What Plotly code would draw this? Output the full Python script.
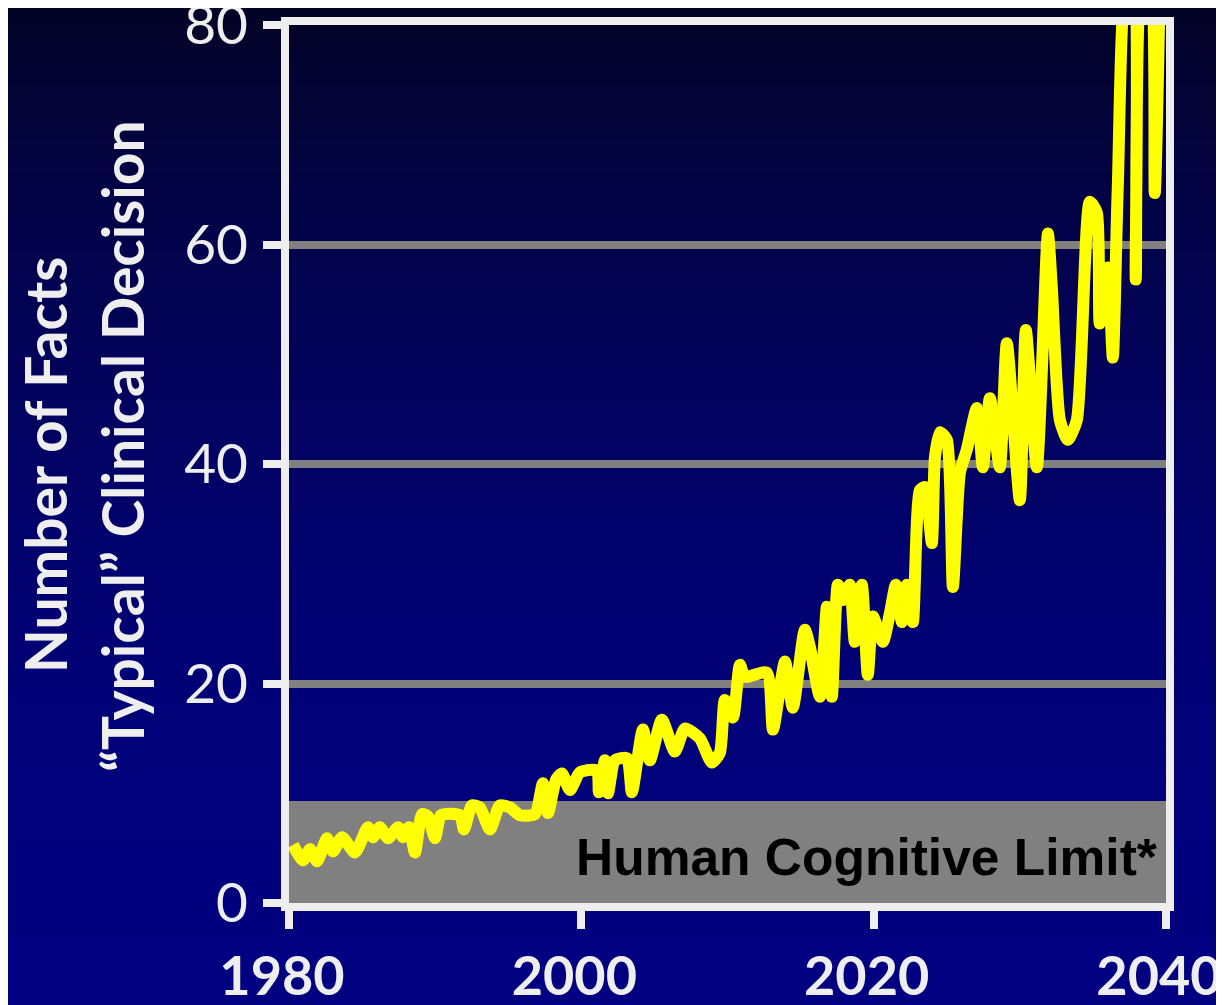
import plotly.graph_objects as go

# ---- data ----
years = [1980.27, 1980.96, 1981.44, 1981.92, 1982.60, 1983.01, 1983.63, 1984.51, 1985.40, 1985.75,
         1986.22, 1986.77, 1987.46, 1987.80, 1988.21, 1988.62, 1989.10, 1989.51, 1989.99, 1990.40,
         1991.70, 1991.97, 1992.52, 1993.06, 1993.75, 1994.43, 1995.12, 1995.80, 1996.83, 1997.37,
         1997.72, 1998.26, 1998.67, 1999.22, 1999.90, 2001.07, 2001.20, 2001.61, 2001.82, 2002.30,
         2003.12, 2003.46, 2004.21, 2004.69, 2005.51, 2006.40, 2007.09, 2008.11, 2008.93, 2009.48,
         2009.82, 2010.37, 2010.85, 2011.19, 2012.69, 2013.11, 2013.93, 2014.47, 2015.29, 2015.64,
         2016.32, 2016.80, 2017.14, 2017.55, 2017.89, 2018.37, 2018.71, 2019.19, 2019.60, 2019.95,
         2020.63, 2021.11, 2021.52, 2021.93, 2022.27, 2022.68, 2023.16, 2023.50, 2023.98, 2024.19,
         2024.53, 2025.01, 2025.42, 2025.90, 2026.37, 2027.06, 2027.47, 2027.95, 2028.63, 2029.11,
         2030.00, 2030.41, 2031.16, 2031.92, 2032.19, 2032.74, 2033.28, 2033.90, 2034.79, 2035.27,
         2035.47, 2036.02, 2036.36, 2036.70, 2037.32, 2037.73, 2037.93, 2038.41, 2038.89, 2039.23,
         2039.58]
facts = [5.3, 3.9, 4.9, 3.8, 5.9, 4.7, 6.0, 4.6, 6.9, 6.0,
         6.9, 5.9, 6.9, 6.0, 6.9, 4.6, 8.1, 7.9, 5.9, 8.0,
         8.0, 6.7, 8.9, 8.7, 6.7, 8.9, 8.7, 8.0, 8.1, 10.9,
         8.2, 11.2, 11.8, 10.3, 11.9, 12.1, 10.1, 13.0, 10.0, 13.0,
         13.2, 10.1, 15.8, 13.0, 16.7, 13.8, 15.9, 15.0, 12.8, 13.7,
         18.5, 16.9, 21.7, 20.6, 21.0, 15.8, 22.0, 17.8, 24.9, 23.3,
         18.8, 27.0, 18.8, 29.0, 27.6, 29.0, 23.8, 29.0, 20.8, 26.1,
         23.8, 26.4, 29.0, 25.6, 29.0, 25.6, 37.6, 37.9, 32.8, 40.6,
         42.9, 42.2, 28.8, 39.2, 41.3, 45.1, 39.7, 46.0, 39.7, 51.0,
         36.7, 52.2, 39.7, 61.0, 56.1, 44.0, 42.2, 44.0, 63.9, 62.9,
         52.8, 57.9, 49.7, 65.2, 84.0, 84.0, 56.8, 84.0, 84.0, 64.7,
         84.0]

x_ticks = [1980, 2000, 2020, 2040]
y_ticks = [0, 20, 40, 60, 80]
limit_value = 9.3
limit_label = "Human Cognitive Limit*"
title_line1 = "Number of Facts"
title_line2 = "\u201cTypical\u201d Clinical Decision"

W, H = 1224, 1005
OFF = 8  # page offset of the figure inside the browser window
ML, MR, MT, MB = 289 - OFF, 58 + OFF, 25 - OFF, 102 + OFF
TXT = "#eeeeee"
pw = W - ML - MR
ph = H - MT - MB

fig = go.Figure()

# background gradient (dark at top, navy at bottom)
n = 90
shapes = []
for i in range(n):
    t0 = i / n
    t1 = (i + 1) / n
    tm = (t0 + t1) / 2
    b = 38 + 90 * (1 - (1 - tm) ** 2)
    rg = 3 * (1 - tm)
    col = f"rgb({rg:.0f},{rg:.0f},{b:.0f})"
    ytop = 1 + MT / ph - t0 * H / ph
    ybot = 1 + MT / ph - t1 * H / ph
    shapes.append(dict(type="rect", xref="paper", yref="paper",
                       x0=-ML / pw - 0.05, x1=1 + MR / pw + 0.05,
                       y0=ybot - 0.002, y1=ytop + 0.002,
                       fillcolor=col, line=dict(width=0), layer="below"))
# human cognitive limit band
shapes.append(dict(type="rect", xref="x", yref="y", x0=x_ticks[0], x1=x_ticks[-1],
                   y0=0, y1=limit_value, fillcolor="#808080",
                   line=dict(width=0), layer="below"))

fig.add_trace(go.Scatter(x=years, y=facts, mode="lines",
                         line=dict(color="#ffff00", width=12, shape="spline", smoothing=0.6),
                         hoverinfo="skip", showlegend=False))


def px_x(p):
    return (p - OFF - ML) / pw


def px_y(p):
    return (H - MB - (p - OFF)) / ph


fig.update_layout(
    width=W, height=H,
    margin=dict(l=ML, r=MR, t=MT, b=MB, pad=0, autoexpand=False),
    paper_bgcolor="#000080",
    plot_bgcolor="rgba(0,0,0,0)",
    shapes=shapes,
    showlegend=False,
    xaxis=dict(range=[1980, 2040], tickvals=x_ticks, ticktext=[str(v) for v in x_ticks],
               automargin=False, ticklabeloverflow="allow",
               showgrid=False, zeroline=False,
               showline=True, linecolor=TXT, linewidth=8, mirror=True,
               ticks="outside", ticklen=18, tickwidth=8, tickcolor=TXT,
               tickfont=dict(family="Lato", size=54, color=TXT, weight="bold"),
               ticklabelstandoff=1, ticklabelshift=-7),
    yaxis=dict(range=[0, 80], tickvals=y_ticks,
               automargin=False, ticklabeloverflow="allow",
               showgrid=True, gridcolor="#808080", gridwidth=8, zeroline=False,
               showline=True, linecolor=TXT, linewidth=8, mirror=True,
               ticks="outside", ticklen=18, tickwidth=8, tickcolor=TXT,
               tickfont=dict(family="Lato", size=55, color=TXT),
               ticklabelstandoff=4),
    annotations=[
        dict(text=limit_label, x=2039.55, y=4.2, xref="x", yref="y",
             xanchor="right", yanchor="middle", showarrow=False,
             font=dict(family="Liberation Sans", size=51.5, color="#000000", weight="bold")),
        dict(text=title_line1, x=px_x(45), y=px_y(465), xref="paper", yref="paper",
             textangle=-90, showarrow=False, xanchor="center", yanchor="middle",
             font=dict(family="Lato", size=57, color=TXT, weight="bold")),
        dict(text=title_line2, x=px_x(122), y=px_y(446), xref="paper", yref="paper",
             textangle=-90, showarrow=False, xanchor="center", yanchor="middle",
             font=dict(family="Lato", size=57, color=TXT, weight="bold")),
    ],
)

fig.write_html("out.html")
